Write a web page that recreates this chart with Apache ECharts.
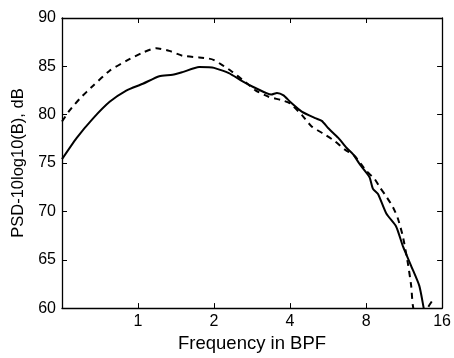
<!DOCTYPE html>
<html>
<head>
<meta charset="utf-8">
<script src="https://cdn.jsdelivr.net/npm/echarts@6/dist/echarts.min.js"></script>
<style>html,body{margin:0;padding:0;background:#fff}#c{width:454px;height:358px}</style>
</head>
<body>
<div id="c"></div>
<script>
var solidFreq = [0.5,0.571,0.664,0.772,0.898,1.045,1.214,1.37,1.5,1.746,1.91,2.0,2.29,2.585,2.918,3.37,3.55,3.77,4.0,4.45,5.03,5.34,5.67,6.21,6.69,7.11,7.55,8.0,8.27,8.52,8.92,9.62,10.53,11.19,12.07,13.0,13.53,14.0];
var solidPsd  = [75.4,77.58,79.62,81.33,82.5,83.2,83.98,84.12,84.4,84.93,84.9,84.84,84.3,83.48,82.76,82.08,82.25,82.0,81.34,80.32,79.64,79.36,78.6,77.6,76.58,75.9,74.88,74.03,73.5,72.33,71.8,69.78,68.42,66.4,64.35,62.3,60.0,58.0];
var dashedFreq = [0.5,0.537,0.588,0.664,0.772,0.898,1.045,1.18,1.33,1.5,1.746,1.91,2.0,2.156,2.33,2.665,2.918,3.29,3.71,4.0,4.45,4.87,5.50,6.02,6.58,7.21,8.0,8.65,9.06,9.47,10.21,10.69,11.19,11.7,12.07,12.25,13.0,14.03,14.67];
var dashedPsd  = [79.3,80.47,81.66,83.0,84.55,85.57,86.43,86.88,86.6,86.1,85.92,85.8,85.65,85.13,84.55,83.37,82.52,81.85,81.5,81.17,79.98,78.79,77.94,77.26,76.4,75.73,74.2,73.35,72.5,71.8,70.46,69.27,67.4,64.7,62.3,60.3,57.0,60.0,60.8];
var xTicks = [1,2,4,8,16];
var yTicks = [60,65,70,75,80,85,90];

function pairs(xs, ys){ return xs.map(function(x,i){return [x, ys[i]];}); }

var font = '"Liberation Sans", Arial, Helvetica, sans-serif';
var chart = echarts.init(document.getElementById('c'), null, {renderer:'canvas'});
var axisLine = {show:true, lineStyle:{color:'#000', width:1.3}};
chart.setOption({
  animation:false,
  backgroundColor:'#fff',
  grid:{left:62, right:9, top:18, bottom:45, show:false},
  xAxis:[{
    type:'log', logBase:2, min:0.5, max:16,
    axisLine:axisLine,
    axisTick:{show:true, inside:true, length:5, lineStyle:{color:'#000'}},
    splitLine:{show:false},
    minorTick:{show:false},
    axisLabel:{color:'#000', fontSize:16, fontFamily:font, margin:5,
      formatter:function(v){ return xTicks.indexOf(Math.round(v*1000)/1000)>=0 ? String(Math.round(v)) : ''; }},
    name:'Frequency in BPF', nameLocation:'middle', nameGap:24,
    nameTextStyle:{color:'#000', fontSize:18.5, fontFamily:font}
  },{
    type:'log', logBase:2, min:0.5, max:16, position:'top',
    axisLine:axisLine,
    axisTick:{show:true, inside:true, length:5, lineStyle:{color:'#000'}},
    axisLabel:{show:false}, splitLine:{show:false}
  }],
  yAxis:[{
    type:'value', min:60, max:90, interval:5,
    axisLine:axisLine,
    axisTick:{show:true, inside:true, length:5, lineStyle:{color:'#000'}},
    splitLine:{show:false},
    axisLabel:{color:'#000', fontSize:16, fontFamily:font, margin:6,
      formatter:function(v){ return yTicks.indexOf(v)>=0 ? String(v) : ''; }},
    name:'PSD-10log10(B), dB', nameLocation:'middle', nameGap:29,
    nameTextStyle:{color:'#000', fontSize:16.5, fontFamily:font}
  },{
    type:'value', min:60, max:90, interval:5, position:'right',
    axisLine:axisLine,
    axisTick:{show:true, inside:true, length:5, lineStyle:{color:'#000'}},
    axisLabel:{show:false}, splitLine:{show:false}
  }],
  series:[{
    type:'line', data:pairs(dashedFreq, dashedPsd), showSymbol:false, smooth:0.2, clip:true,
    lineStyle:{color:'#000', width:2, type:[6,5]}
  },{
    type:'line', data:pairs(solidFreq, solidPsd), showSymbol:false, smooth:0.2, clip:true,
    lineStyle:{color:'#000', width:2}
  }]
});
</script>
</body>
</html>
